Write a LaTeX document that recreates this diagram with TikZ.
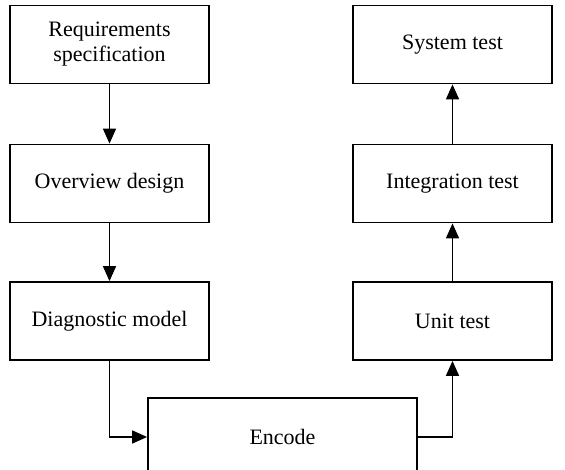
\documentclass[tikz,border=0pt]{standalone}
\usepackage{fontspec}
\setmainfont{Liberation Serif}
\usetikzlibrary{arrows.meta}
\begin{document}
\begin{tikzpicture}[x=1pt,y=-1pt,
  stage/.style={draw, line width=1.8pt, minimum width=199pt, minimum height=78pt,
    inner sep=0pt, align=center, font=\fontsize{22}{25}\selectfont},
  flow/.style={line width=1.6pt, -{Triangle[length=15pt,width=13pt]}}]
  \useasboundingbox (0,0) rectangle (565,470);
  \clip (0,0) rectangle (565,470);
  % left branch: design steps
  \node[stage] (req)  at (109.5,44.5)  {Requirements\\specification};
  \node[stage] (over) at (109.5,183.5) {Overview design};
  \node[stage] (diag) at (109.5,321)   {Diagnostic model};
  % bottom: coding
  \node[stage, minimum width=269pt] (enc) at (282.5,437) {Encode};
  % right branch: test steps
  \node[stage] (unit) at (452.5,321)   {Unit test};
  \node[stage] (integ) at (452.5,183.5) {Integration test};
  \node[stage] (sys)  at (452.5,44.5)  {System test};
  % connectors
  \draw[flow] (req) -- (over);
  \draw[flow] (over) -- (diag);
  \draw[flow] (diag.south) |- (enc.west);
  \draw[flow] (enc.east) -| (unit.south);
  \draw[flow] (unit) -- (integ);
  \draw[flow] (integ) -- (sys);
\end{tikzpicture}
\end{document}
